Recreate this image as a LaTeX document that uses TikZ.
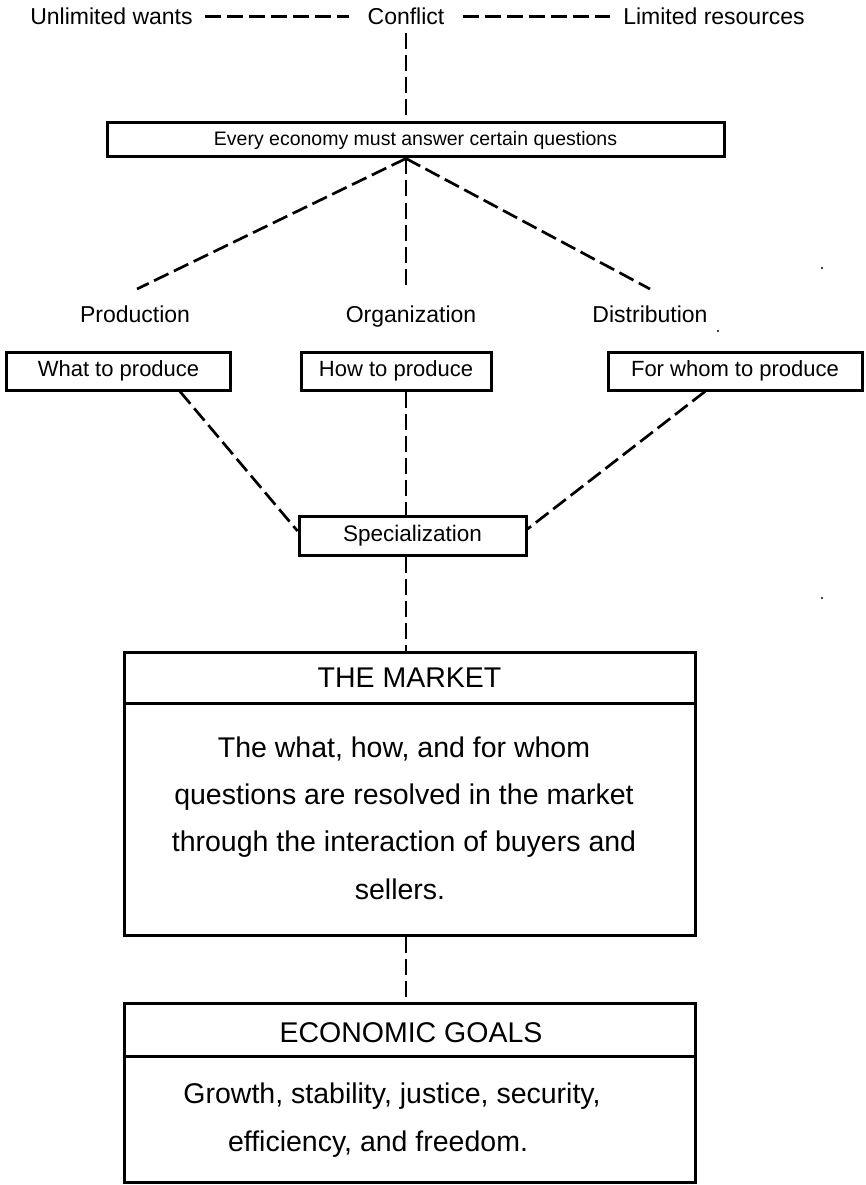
\documentclass[tikz,border=0pt]{standalone}
\usepackage{fontspec}
\setmainfont{Liberation Sans}
\begin{document}
\begin{tikzpicture}[x=1pt,y=-1pt,
  box/.style={draw, line width=3pt, inner sep=0pt, rectangle},
  rule/.style={line width=3pt},
  link/.style={line width=2.7pt, dash pattern=on 16pt off 6pt},
  lbl/.style={font=\fontsize{23}{27}\selectfont, inner sep=0pt, anchor=base},
  small/.style={font=\fontsize{19.5}{23}\selectfont},
  mid/.style={font=\fontsize{22}{26}\selectfont},
  big/.style={font=\fontsize{28.5}{33}\selectfont, inner sep=0pt, anchor=base},
  speck/.style={fill=black, inner sep=0pt, minimum size=2.4pt, circle}
]
\useasboundingbox (0,0) rectangle (866,1185);

% top line: wants -- conflict -- resources
\node[lbl] (wants) at (111.5,25) {Unlimited wants};
\node[lbl] (conflict) at (406,25) {Conflict};
\node[lbl] (resources) at (714,25) {Limited resources};
\draw[link] ([xshift=12pt]wants.east) -- ([xshift=-18pt]conflict.west);
\draw[link] ([xshift=18pt]conflict.east) -- ([xshift=-13pt]resources.west);

% questions box
\node[box, small, minimum width=617pt, minimum height=34pt] (questions) at (415.5,140) {Every economy must answer certain questions};
\draw[link] ([yshift=-8pt]conflict.south) -- (questions.north -| conflict.south);

% three categories
\node[lbl] (production) at (135,322) {Production};
\node[lbl] (organization) at (411,322) {Organization};
\node[lbl] (distribution) at (650,322) {Distribution};
\coordinate (qs) at (questions.south -| conflict.south);
\coordinate (pe) at (137,289);
\coordinate (oe) at (406,289);
\coordinate (de) at (650,289);
\draw[link] (qs) -- (pe);
\draw[link] (qs) -- (oe);
\draw[link] (qs) -- (de);

% question boxes
\node[box, mid, minimum width=224pt, minimum height=38pt] (what) at (118.5,371) {What to produce};
\node[box, mid, minimum width=190pt, minimum height=38pt] (how) at (396,371) {How to produce};
\node[box, mid, minimum width=254pt, minimum height=38pt] (whom) at (735,371) {For whom to produce};

% specialization
\node[box, font=\fontsize{22.5}{26}\selectfont, minimum width=227pt, minimum height=39pt] (spec) at (412.5,535.5) {Specialization};
\draw[link] (what.south -| 180,0) -- (spec.west |- 0,531);
\draw[link] (how.south -| 406,0) -- (spec.north -| 406,0);
\draw[link] (whom.south -| 705,0) -- (spec.east |- 0,529);

% the market
\node[box, minimum width=571pt, minimum height=283pt] (market) at (409.5,793.5) {};
\draw[rule] (market.west |- 0,703) -- (market.east |- 0,703);
\node[big] (mhead) at (409.5,687) {THE MARKET};
\node[big] (m1) at (404,757) {The what, how, and for whom};
\node[big] (m2) at (404,804) {questions are resolved in the market};
\node[big] (m3) at (404,851) {through the interaction of buyers and};
\node[big] (m4) at (400,899) {sellers.};
\draw[link] (spec.south -| 406,0) -- (market.north -| 406,0);

% economic goals
\node[box, minimum width=571pt, minimum height=179pt] (goals) at (409.5,1092.5) {};
\draw[rule] (goals.west |- 0,1056) -- (goals.east |- 0,1056);
\node[big] (ghead) at (411,1042) {ECONOMIC GOALS};
\node[big] (g1) at (392,1103) {Growth, stability, justice, security,};
\node[big] (g2) at (378,1151) {efficiency, and freedom.};
\draw[link] (market.south -| 406,0) -- (goals.north -| 406,0);

% specks
\node[speck] (s1) at (822,268) {};
\node[speck] (s2) at (718,331) {};
\node[speck] (s3) at (822,598) {};
\end{tikzpicture}
\end{document}
